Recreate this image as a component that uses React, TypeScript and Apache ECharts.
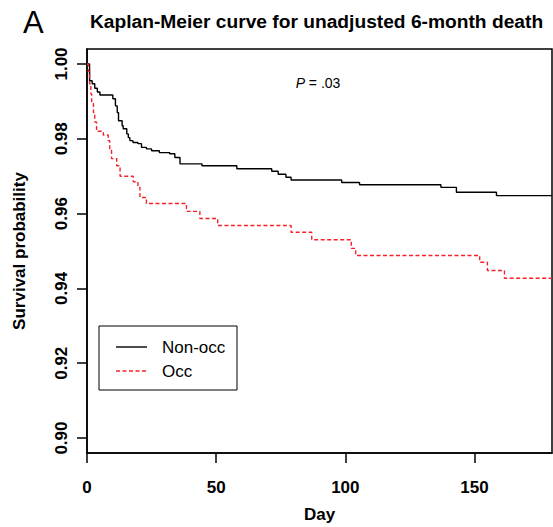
import React, { useEffect, useRef } from "react";
import * as echarts from "echarts";

const chartTitle = "Kaplan-Meier curve for unadjusted 6-month death";
const panelLetter = "A";
const seriesNames = ["Non-occ", "Occ"];

const nonOccDays = [0, 1, 2, 3, 4, 5, 10, 11, 11.7, 12.2, 13.6, 14, 15.4, 16, 16.6, 17.8, 19.7, 21.1, 23, 25, 28, 32, 34, 36, 44.5, 58, 71.5, 74, 77, 79, 98.6, 105.5, 137, 143, 158.5, 180];
const nonOccSurv = [1.0, 0.9955, 0.9947, 0.9935, 0.9925, 0.9917, 0.9907, 0.9888, 0.987, 0.9848, 0.9835, 0.9827, 0.9813, 0.9803, 0.9795, 0.979, 0.9787, 0.9777, 0.9773, 0.9768, 0.9763, 0.976, 0.975, 0.9733, 0.9728, 0.972, 0.9713, 0.9705, 0.9697, 0.969, 0.9683, 0.9677, 0.967, 0.9657, 0.9648, 0.9648];

const occDays = [0, 0.5, 1, 1.5, 1.8, 2.5, 3, 3.7, 6.3, 8.2, 8.8, 9.5, 11.5, 12.8, 17.9, 19.7, 20.5, 23, 38.5, 43.7, 50.6, 79, 87, 102.3, 104, 152, 155, 161.6, 180];
const occSurv = [1.0, 0.998, 0.9947, 0.992, 0.9897, 0.987, 0.9845, 0.982, 0.981, 0.9795, 0.977, 0.9747, 0.9728, 0.97, 0.9685, 0.967, 0.9643, 0.9627, 0.9606, 0.9587, 0.9568, 0.955, 0.953, 0.9507, 0.9488, 0.947, 0.9448, 0.9427, 0.9427];

const xTicks = [0, 50, 100, 150];
const yTicks = [0.9, 0.92, 0.94, 0.96, 0.98, 1.0];

const FONT = "'Liberation Sans', Arial, Helvetica, sans-serif";
const RED = "#f5222a";

export default function App() {
  const ref = useRef<HTMLDivElement>(null);
  useEffect(() => {
    document.body.style.margin = "0";
    const chart = echarts.init(ref.current!, null, { renderer: "svg" });
    const nonOcc = nonOccDays.map((d, i) => [d, nonOccSurv[i]]);
    const occ = occDays.map((d, i) => [d, occSurv[i]]);
    chart.setOption({
      animation: false,
      backgroundColor: "#ffffff",
      textStyle: { fontFamily: FONT },
      grid: {
        left: 87,
        right: 1,
        top: 49,
        bottom: 74,
        show: true,
        borderColor: "#000",
        borderWidth: 1.5,
        containLabel: false,
        outerBoundsMode: "none",
      },
      xAxis: {
        type: "value",
        min: 0,
        max: 180,
        name: "Day",
        nameLocation: "middle",
        nameGap: 53,
        nameTextStyle: { fontSize: 17, fontWeight: "bold", color: "#000", fontFamily: FONT },
        axisLine: { show: true, onZero: false, lineStyle: { color: "#000", width: 1.5 } },
        axisTick: { show: true, inside: false, length: 10, lineStyle: { color: "#000", width: 1.5 }, customValues: xTicks },
        axisLabel: { customValues: xTicks, margin: 26, fontSize: 17, fontWeight: "bold", color: "#000", fontFamily: FONT },
        splitLine: { show: false },
      },
      yAxis: {
        type: "value",
        min: 0.896,
        max: 1.004,
        name: "Survival probability",
        nameLocation: "middle",
        nameGap: 59,
        nameTextStyle: { fontSize: 17, fontWeight: "bold", color: "#000", fontFamily: FONT },
        axisLine: { show: true, onZero: false, lineStyle: { color: "#000", width: 1.5 } },
        axisTick: { show: true, inside: false, length: 10, lineStyle: { color: "#000", width: 1.5 }, customValues: yTicks },
        axisLabel: {
          customValues: yTicks,
          rotate: 90,
          margin: 17,
          fontSize: 17,
          fontWeight: "bold",
          color: "#000",
          fontFamily: FONT,
          formatter: (v: number) => v.toFixed(2),
        },
        splitLine: { show: false },
      },
      series: [
        {
          name: seriesNames[0],
          type: "line",
          step: "end",
          data: nonOcc,
          showSymbol: false,
          symbol: "none",
          lineStyle: { color: "#000", width: 1.4, type: "solid" },
        },
        {
          name: seriesNames[1],
          type: "line",
          step: "end",
          data: occ,
          showSymbol: false,
          symbol: "none",
          lineStyle: { color: RED, width: 1.4, type: [4, 2.5] },
        },
      ],
      graphic: [
        {
          type: "text",
          x: 23,
          y: 22,
          style: { text: panelLetter, fontSize: 31, fontFamily: FONT, fill: "#000", verticalAlign: "middle" },
        },
        {
          type: "text",
          x: 90,
          y: 21,
          style: { text: chartTitle, fontSize: 19.2, fontWeight: "bold", fontFamily: FONT, fill: "#000", verticalAlign: "middle" },
        },
        {
          type: "text",
          x: 318,
          y: 83,
          style: {
            text: "{i|P} = .03",
            rich: { i: { fontStyle: "italic", fontSize: 14, fontFamily: FONT, fill: "#000" } },
            fontSize: 14,
            fontFamily: FONT,
            fill: "#000",
            align: "center",
            verticalAlign: "middle",
          },
        },
        {
          type: "rect",
          shape: { x: 99, y: 326, width: 138, height: 64 },
          style: { fill: "#fff", stroke: "#000", lineWidth: 1 },
          z: 100,
        },
        {
          type: "line",
          shape: { x1: 116, y1: 347, x2: 147, y2: 347 },
          style: { stroke: "#000", lineWidth: 1.4 },
          z: 101,
        },
        {
          type: "line",
          shape: { x1: 116, y1: 371, x2: 147, y2: 371 },
          style: { stroke: RED, lineWidth: 1.4, lineDash: [4, 2.5] },
          z: 101,
        },
        {
          type: "text",
          x: 162,
          y: 347,
          style: { text: seriesNames[0], fontSize: 17, fontFamily: FONT, fill: "#000", verticalAlign: "middle" },
          z: 101,
        },
        {
          type: "text",
          x: 162,
          y: 371,
          style: { text: seriesNames[1], fontSize: 17, fontFamily: FONT, fill: "#000", verticalAlign: "middle" },
          z: 101,
        },
      ],
    });
    return () => chart.dispose();
  }, []);
  return <div ref={ref} style={{ position: "fixed", left: 0, top: 0, width: 553, height: 527 }} />;
}
